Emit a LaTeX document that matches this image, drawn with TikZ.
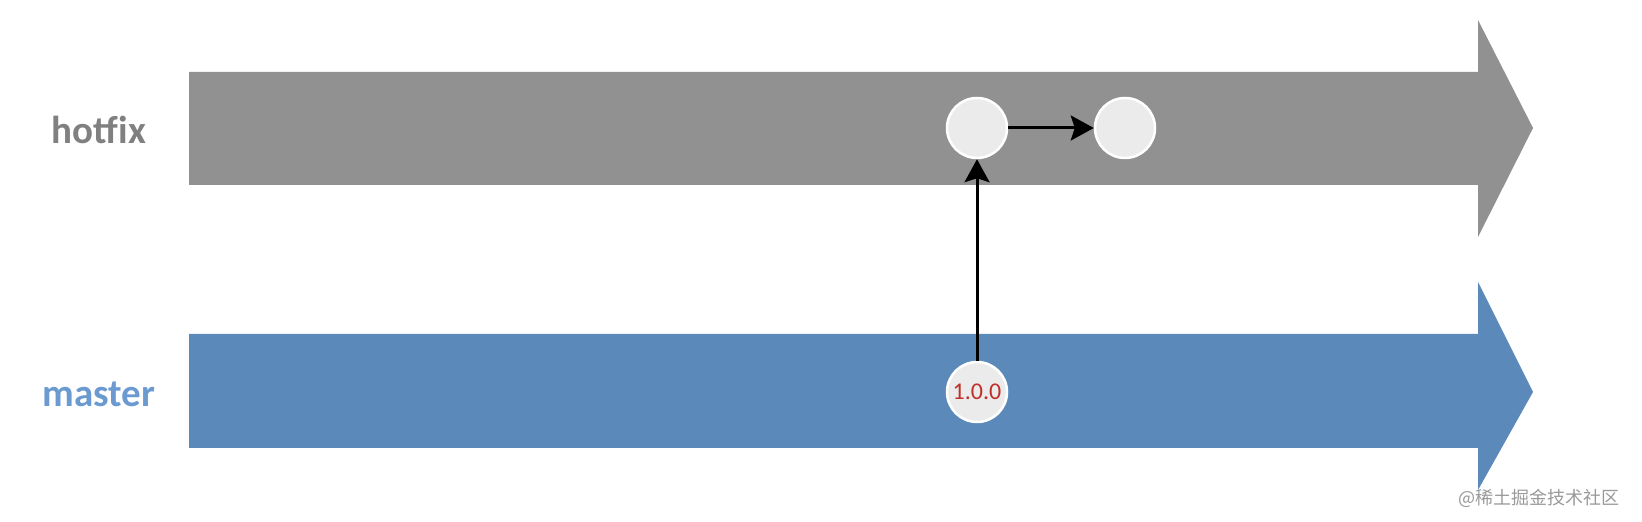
\documentclass[tikz,border=0pt]{standalone}
\usepackage{fontspec}
\setmainfont{Carlito}
\newfontfamily\cjk{Noto Sans CJK SC}
\usetikzlibrary{arrows.meta}
\definecolor{hotfixgray}{HTML}{919191}
\definecolor{masterblue}{HTML}{5B89BA}
\definecolor{labelblue}{HTML}{6A9AD0}
\definecolor{commitfill}{HTML}{EBEBEB}
\definecolor{tagred}{HTML}{C0302A}

\begin{document}
\begin{tikzpicture}[x=0.5pt, y=-0.5pt,
  commit/.style={draw=white, line width=1.25pt, fill=commitfill, circle,
    minimum size=30pt, inner sep=0pt},
  link/.style={line width=1.5pt, -{Stealth[length=11.5pt, width=12.5pt, inset=2pt]}},
  branch/.style={font=\bfseries\fontsize{19.5}{20}\selectfont}]
  \useasboundingbox (0,0) rectangle (1642,522);
  % branch arrows
  \fill [hotfixgray] (189,72) -- (1478,72) -- (1478,20) -- (1533,128)
    -- (1478,237) -- (1478,185) -- (189,185) -- cycle;
  \fill [masterblue] (189,334) -- (1478,334) -- (1478,282) -- (1533,392)
    -- (1478,490) -- (1478,448) -- (189,448) -- cycle;
  % branch names
  \node [branch, text=gray] (hotfix) at (99,130) {hotfix};
  \node [branch, text=labelblue] (master) at (99,394) {master};
  % commits
  \node [commit] (h1) at (977,128) {};
  \node [commit] (h2) at (1125,128) {};
  \node [commit, text=tagred, font=\fontsize{12}{12}\selectfont] (m1) at (977,392) {1.0.0};
  \draw [link] (h1) -- (h2);
  \draw [link] (m1) -- (h1);
  % watermark
  \node [text=gray!80, font=\cjk\fontsize{9}{9}\selectfont, anchor=east] (mark) at (1627,498) {@稀土掘金技术社区};
\end{tikzpicture}
\end{document}
